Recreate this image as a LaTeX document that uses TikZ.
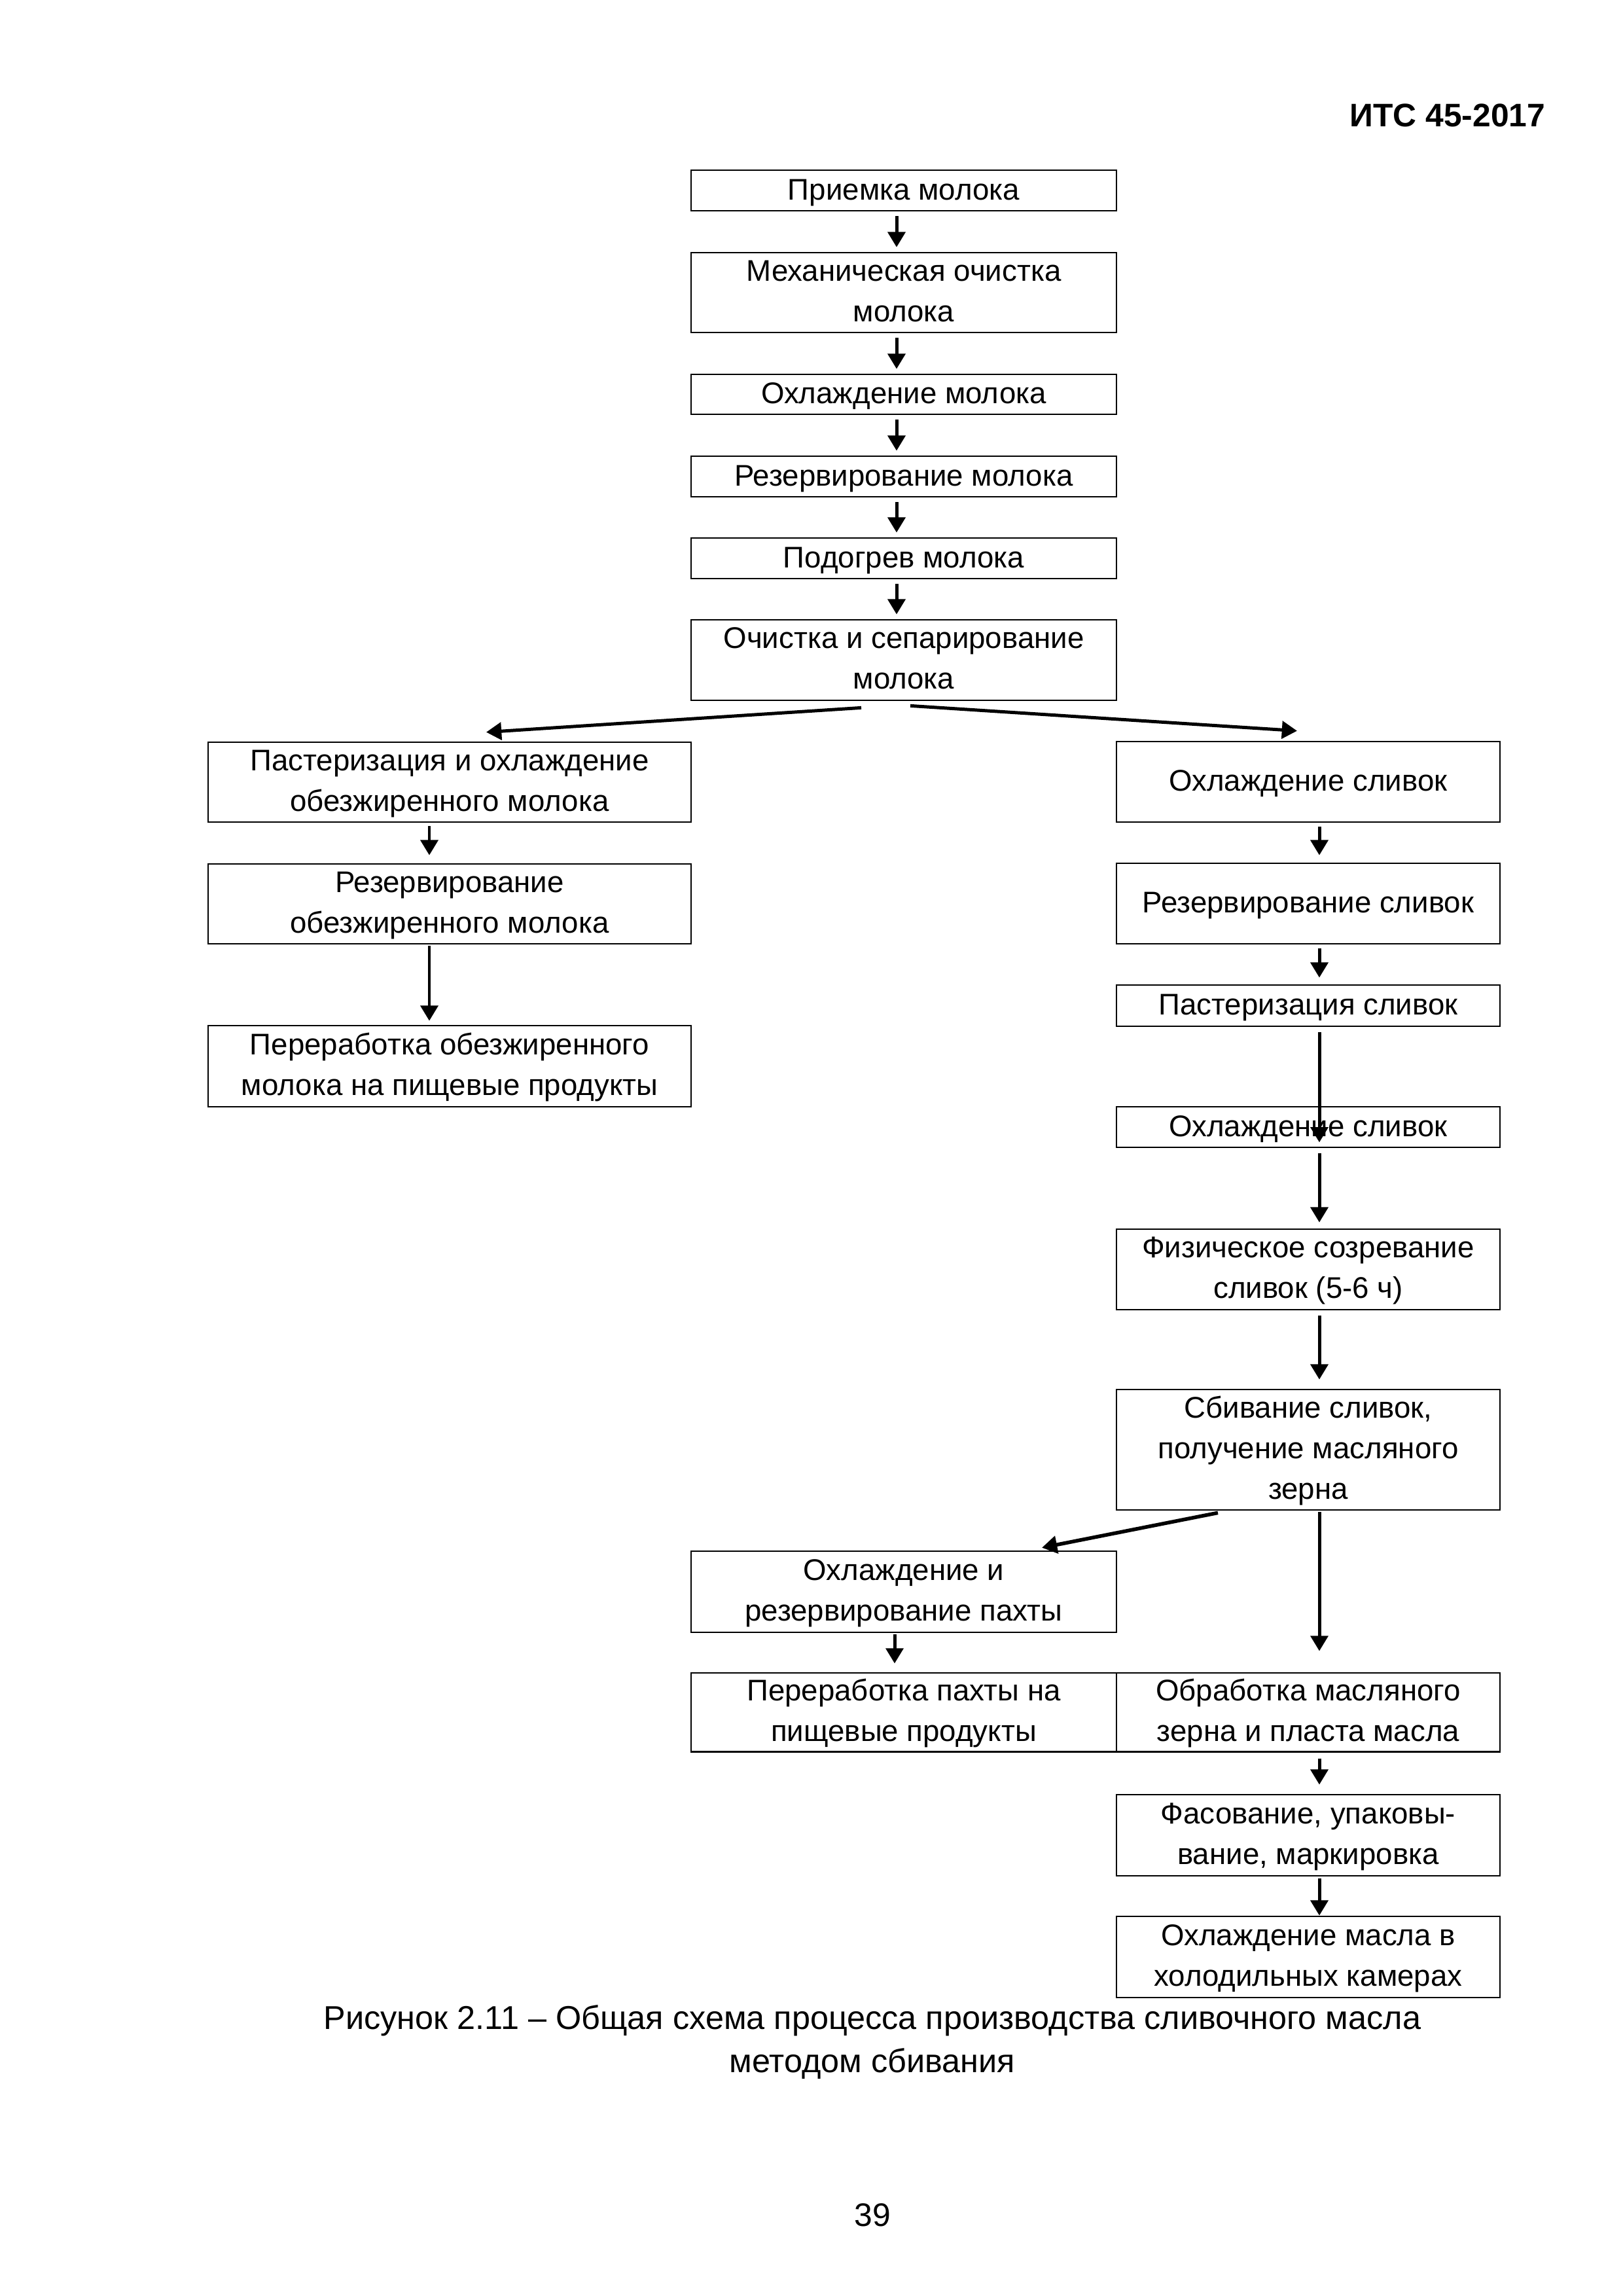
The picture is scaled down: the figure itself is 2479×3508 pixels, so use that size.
\documentclass[tikz,border=0pt]{standalone}
\usepackage{fontspec}
\setmainfont{Liberation Sans}
\usetikzlibrary{arrows.meta,calc}
\def\pxu{0.24103pt}
\newcommand\bstrut{\rule[-3.8pt]{0pt}{14.4pt}}
\def\firststrut{}
\tikzset{
  box/.style={draw, line width=0.65pt, inner sep=0pt, align=center,
    font=\fontsize{11}{15}\selectfont,
    execute at begin node=\bstrut, execute at end node=\bstrut},
  ml/.style={/utils/exec={\def\firststrut{\rule{0pt}{10.2pt}}}},
  arr/.style={line width=1.2pt, -{Triangle[length=5.6pt,width=6.4pt]}},
  darr/.style={line width=1.35pt, -{Triangle[length=5.6pt,width=6.4pt]}}
}
\newcommand\bx[7][]{\node[box,#1,minimum width=#5*\pxu,minimum height=#6*\pxu] (#2) at (#3,#4) {\firststrut#7};}
\begin{document}
\begin{tikzpicture}[x=0.24103pt,y=-0.24103pt]
\fill[white] (0,0) rectangle (2479,3508);
% header
\node[anchor=base east, inner sep=0pt, font=\fontsize{12}{14}\selectfont\bfseries] (hdr) at (2362,193) {ИТС 45-2017};
% top column
\bx{t1}{1381}{291}{650}{62}{Приемка молока}
\bx[ml]{t2}{1381}{447}{650}{122}{Механическая очистка\\молока}
\bx{t3}{1381}{602.5}{650}{61}{Охлаждение молока}
\bx{t4}{1381}{728}{650}{62}{Резервирование молока}
\bx{t5}{1381}{853}{650}{62}{Подогрев молока}
\bx[ml]{t6}{1381}{1008.5}{650}{123}{Очистка и сепарирование\\молока}
% left column
\bx[ml]{l1}{687}{1195}{738}{122}{Пастеризация и охлаждение\\обезжиренного молока}
\bx[ml]{l2}{687}{1381}{738}{122}{Резервирование\\обезжиренного молока}
\bx[ml]{l3}{687}{1629}{738}{124}{Переработка обезжиренного\\молока на пищевые продукты}
% right column
\bx{r1}{1999}{1194.5}{586}{123}{Охлаждение сливок}
\bx{r2}{1999}{1380.5}{586}{123}{Резервирование сливок}
\bx{r3}{1999}{1536.5}{586}{63}{Пастеризация сливок}
\bx{r4}{1999}{1722}{586}{62}{Охлаждение сливок}
\bx[ml]{r5}{1999}{1939.5}{586}{123}{Физическое созревание\\сливок (5-6 ч)}
\bx[ml]{r6}{1999}{2215}{586}{184}{Сбивание сливок,\\получение масляного\\зерна}
% bottom
\bx[ml]{b1}{1381}{2432}{650}{124}{Охлаждение и\\резервирование пахты}
\bx[ml]{b2}{1381}{2616}{650}{120}{Переработка пахты на\\пищевые продукты}
\bx[ml]{b3}{1999}{2616}{586}{120}{Обработка масляного\\зерна и пласта масла}
\bx[ml]{b4}{1999}{2804}{586}{124}{Фасование, упаковы-\\вание, маркировка}
\bx[ml]{b5}{1999}{2990}{586}{124}{Охлаждение масла в\\холодильных камерах}
% arrows top
\draw[arr] ($(t1.south)+(-11,7)$) -- ($(t2.north)+(-11,-7)$);
\draw[arr] ($(t2.south)+(-11,7)$) -- ($(t3.north)+(-11,-7)$);
\draw[arr] ($(t3.south)+(-11,7)$) -- ($(t4.north)+(-11,-7)$);
\draw[arr] ($(t4.south)+(-11,7)$) -- ($(t5.north)+(-11,-7)$);
\draw[arr] ($(t5.south)+(-11,7)$) -- ($(t6.north)+(-11,-7)$);
% split
\draw[arr] ($(t6.south)+(-65,10)$) -- ($(l1.north)+(56,-14)$);
\draw[arr] ($(t6.south)+(10,7)$) -- ($(r1.north)+(-17,-15)$);
% left arrows
\draw[arr] ($(l1.south)+(-31,5)$) -- ($(l2.north)+(-31,-12)$);
\draw[arr] ($(l2.south)+(-31,2)$) -- ($(l3.north)+(-31,-6)$);
% right arrows
\draw[arr] ($(r1.south)+(17,6)$) -- ($(r2.north)+(17,-11)$);
\draw[arr] ($(r2.south)+(17,6)$) -- ($(r3.north)+(17,-10)$);
\draw[arr] ($(r3.south)+(17,8)$) -- ($(r4.south)+(17,-9)$);
\draw[arr] ($(r4.south)+(17,8)$) -- ($(r5.north)+(17,-9)$);
\draw[arr] ($(r5.south)+(17,8)$) -- ($(r6.north)+(17,-14)$);
\draw[arr] ($(r6.south)+(17,2)$) -- ($(b3.north)+(17,-32)$);
\draw[darr] ($(r6.south)+(-138,3)$) -- ($(b1.north)+(211,-4)$);
\draw[arr] ($(b1.south)+(-14,2)$) -- ($(b2.north)+(-14,-13)$);
\draw[arr] ($(b3.south)+(17,9)$) -- ($(b4.north)+(17,-14)$);
\draw[arr] ($(b4.south)+(17,3)$) -- ($(b5.north)+(17,0)$);
% caption
\node[anchor=north, inner sep=0pt, align=center, font=\fontsize{12.15}{15.9}\selectfont] (cap) at (1333,3063)
  {Рисунок 2.11 – Общая схема процесса производства сливочного масла\\методом сбивания};
\node[anchor=base, inner sep=0pt, font=\fontsize{12}{14}\selectfont] (pg) at (1333,3401) {39};
\end{tikzpicture}
\end{document}
